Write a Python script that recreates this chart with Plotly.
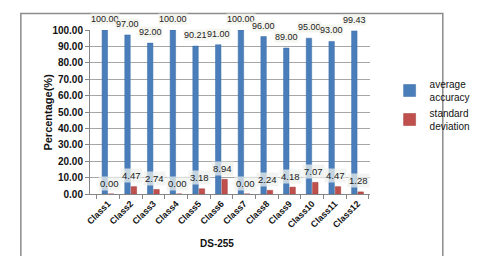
import plotly.graph_objects as go

categories = ["Class1", "Class2", "Class3", "Class4", "Class5", "Class6",
              "Class7", "Class8", "Class9", "Class10", "Class11", "Class12"]
avg_accuracy = [100.00, 97.00, 92.00, 100.00, 90.21, 91.00,
                100.00, 96.00, 89.00, 95.00, 93.00, 99.43]
std_dev = [0.00, 4.47, 2.74, 0.00, 3.18, 8.94,
           0.00, 2.24, 4.18, 7.07, 4.47, 1.28]
y_ticks = [0, 10, 20, 30, 40, 50, 60, 70, 80, 90, 100]

FONT = "Liberation Sans, Arial, sans-serif"
BLUE = "#4A7EBB"
RED = "#C0504D"

fig = go.Figure()
fig.add_trace(go.Bar(x=categories, y=avg_accuracy, name="average<br>accuracy",
                     marker=dict(color=BLUE, line=dict(color="#3A6AA5", width=0.5))))
fig.add_trace(go.Bar(x=categories, y=std_dev, name="standard<br>deviation",
                     marker=dict(color=RED, line=dict(color="#A03A37", width=0.5))))

annotations = []
for c, v in zip(categories, avg_accuracy):
    annotations.append(dict(x=c, y=v, xref="x", yref="y", text=f"{v:.2f}",
                            showarrow=False, yshift=11, xshift=-3,
                            font=dict(family=FONT, size=9, color="#222"),
                            bgcolor="rgba(242,242,234,0.75)", borderpad=0))
for c, v in zip(categories, std_dev):
    annotations.append(dict(x=c, y=v, xref="x", yref="y", text=f"{v:.2f}",
                            showarrow=False, yshift=11, xshift=1,
                            font=dict(family=FONT, size=9.5, color="#222"),
                            bgcolor="rgba(236,240,236,0.75)", borderpad=1))
annotations.append(dict(text="<b>Percentage(%)</b>", x=-0.18, y=0.5, xref="paper", yref="paper",
                        textangle=-90, showarrow=False,
                        font=dict(family=FONT, size=11, color="#111")))
annotations.append(dict(text="<b>DS-255</b>", x=0.455, y=-0.35, xref="paper", yref="paper",
                        showarrow=False, font=dict(family=FONT, size=10, color="#111")))

fig.update_layout(
    width=480, height=256,
    margin=dict(l=82, r=85, t=22, b=70),
    paper_bgcolor="white", plot_bgcolor="white",
    barmode="group", bargap=0.44, bargroupgap=0.14,
    font=dict(family=FONT, size=10, color="#111"),
    annotations=annotations,
    legend=dict(x=1.07, y=0.75, xanchor="left", yanchor="top",
                font=dict(family=FONT, size=10, color="#111"),
                tracegroupgap=18, itemwidth=30, bgcolor="rgba(0,0,0,0)"),
    shapes=[dict(type="rect", xref="paper", yref="paper",
                 x0=-0.247, x1=1.26, y0=-0.395, y1=1.1,
                 line=dict(color="#8C8C8C", width=1.5), fillcolor="rgba(0,0,0,0)")],
)
fig.update_yaxes(range=[0, 100], tickvals=y_ticks, ticktext=[f"<b>{t:.2f}</b>" for t in y_ticks],
                 showgrid=True, gridcolor="#A6A6A6", gridwidth=1,
                 showline=True, linecolor="#868686", ticks="outside", ticklen=4,
                 tickcolor="#868686", tickfont=dict(family=FONT, size=10, color="#111"))
fig.update_xaxes(tickangle=-45, ticktext=[f"<b>{c}</b>" for c in categories], tickvals=categories,
                 showline=True, linecolor="#868686", ticks="outside", ticklen=4,
                 tickson="boundaries", tickcolor="#868686",
                 tickfont=dict(family=FONT, size=9, color="#111"))

fig.write_html("out.html")
